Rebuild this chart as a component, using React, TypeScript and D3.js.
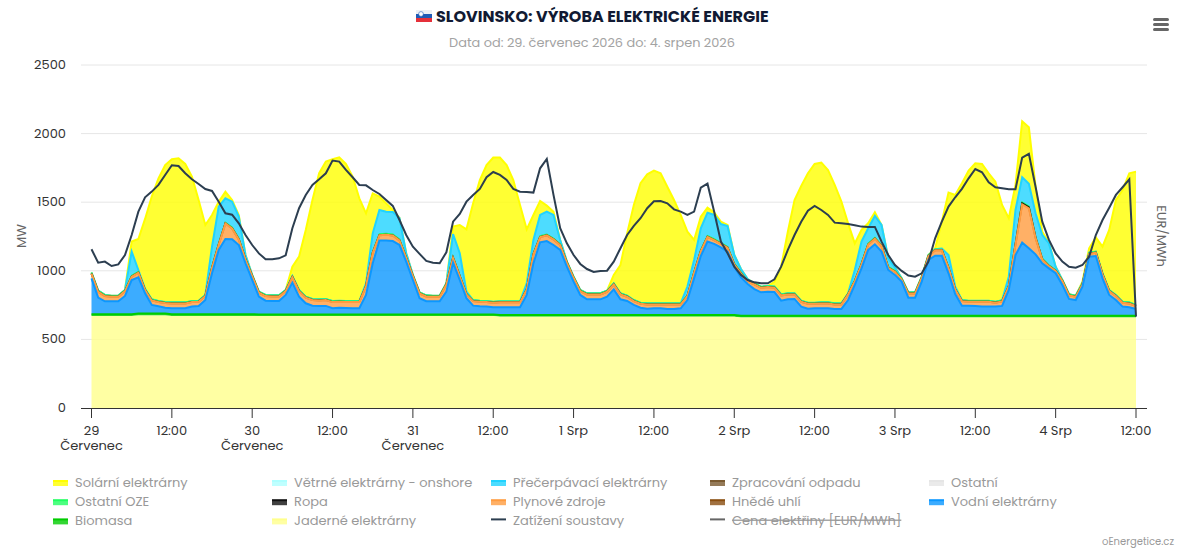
import * as d3 from "d3";

const hours = d3.range(157);

const nuclear = [
  671,671,671,671,671,671,671,675,675,675,675,675,
  671,671,671,671,671,671,671,671,671,671,671,671,
  671,670,670,670,670,670,670,670,670,670,670,670,
  670,670,670,670,670,670,670,670,670,670,670,670,
  670,670,670,670,670,670,670,670,670,670,670,670,
  670,665,665,665,665,665,665,665,665,665,665,665,
  665,665,665,665,665,665,665,665,665,665,665,665,
  665,665,665,665,665,665,665,665,665,665,665,665,
  665,660,660,660,660,660,660,660,660,660,660,660,
  660,660,660,660,660,660,660,660,660,660,660,660,
  660,660,660,660,660,660,660,660,660,660,660,660,
  660,660,660,660,660,660,660,660,660,660,660,660,
  660,660,660,660,660,660,660,660,660,660,660,660,
  660,
];
const biomass = [
  13,13,13,13,13,13,13,13,13,13,13,13,
  13,13,13,13,13,13,13,13,13,13,13,13,
  13,12,12,12,12,12,12,12,12,12,12,12,
  12,12,12,12,12,12,12,12,12,12,12,12,
  12,12,12,12,12,12,12,12,12,12,12,12,
  12,12,12,12,12,12,12,12,12,12,12,12,
  12,12,12,12,12,12,12,12,12,12,12,12,
  12,12,12,12,12,12,12,12,12,12,12,12,
  12,12,12,12,12,12,12,12,12,12,12,12,
  12,12,12,12,12,12,12,12,12,12,12,12,
  12,12,12,12,12,12,12,12,12,12,12,12,
  12,12,12,12,12,12,12,12,12,12,12,12,
  12,12,12,12,12,12,12,12,12,12,12,12,
  12,
];
const hydro = [
  261,121,94,94,94,133,249,265,148,63,53,43,
  43,43,43,55,60,103,298,468,548,546,504,371,
  249,130,100,98,98,142,232,130,81,64,62,62,
  45,49,47,45,45,142,373,538,538,535,506,385,
  251,118,96,96,96,166,377,251,118,64,59,57,
  52,57,57,57,57,147,378,531,540,511,475,353,
  244,147,115,115,115,135,188,115,103,74,54,47,
  50,50,45,45,50,110,268,431,536,519,494,463,
  353,280,232,195,171,176,173,110,120,123,67,52,
  55,55,55,50,50,115,225,346,480,521,468,334,
  298,249,132,132,249,407,438,438,310,159,74,74,
  72,67,67,67,72,188,443,533,492,448,383,346,
  310,225,123,115,213,431,436,273,152,115,67,62,
  50,
];
const gas = [
  34,42,38,33,33,35,24,33,24,33,31,34,
  35,35,35,33,30,29,40,40,113,79,41,28,
  29,28,34,33,33,28,40,40,41,41,40,43,
  45,43,43,45,45,65,77,40,43,41,34,28,
  29,35,35,33,33,53,36,29,28,33,33,33,
  33,36,36,36,36,40,65,38,41,41,36,29,
  28,28,36,36,36,35,36,36,31,28,29,31,
  28,28,33,33,28,29,41,36,35,28,26,28,
  17,29,16,34,33,33,32,39,36,33,35,36,
  33,35,35,33,33,41,28,29,40,41,40,16,
  23,16,31,31,28,28,39,39,40,33,33,28,
  30,35,35,28,33,29,77,279,291,121,28,16,
  16,28,26,24,16,21,24,29,28,29,28,28,
  21,
];
const oil = [
  0,0,0,0,0,0,0,0,0,0,0,0,
  0,0,0,0,0,0,0,0,0,0,0,0,
  0,0,0,0,0,0,0,0,0,0,0,0,
  0,0,0,0,0,0,0,0,0,0,0,0,
  0,0,0,0,0,0,0,0,0,0,0,0,
  0,0,0,0,0,0,0,0,0,0,0,0,
  0,0,0,0,0,0,0,0,0,0,0,0,
  0,0,0,0,0,0,0,0,0,0,0,0,
  0,0,0,0,0,0,0,0,0,0,0,0,
  0,0,0,0,0,0,0,0,0,0,0,0,
  0,0,0,0,0,0,0,0,0,0,0,0,
  0,0,0,0,0,0,0,8,8,0,0,0,
  0,0,0,0,0,0,0,0,0,0,0,0,
  0,
];
const otherRes = [
  8,8,8,8,8,8,8,8,8,8,8,8,
  8,8,8,8,8,8,8,8,8,8,8,8,
  8,8,8,8,8,8,8,8,8,8,8,8,
  8,8,8,8,8,8,8,8,8,8,8,8,
  8,8,8,8,8,8,8,8,8,8,8,8,
  8,8,8,8,8,8,8,8,8,8,8,8,
  8,8,8,8,8,8,8,8,8,8,8,8,
  8,8,8,8,8,8,8,8,8,8,8,8,
  8,8,8,8,8,8,8,8,8,8,8,8,
  8,8,8,8,8,8,8,8,8,8,8,8,
  8,8,8,8,8,8,8,8,8,8,8,8,
  8,8,8,8,8,8,8,8,8,8,8,8,
  8,8,8,8,8,8,8,8,8,8,8,8,
  8,
];
const pumped = [
  0,0,0,0,0,0,175,12,0,0,0,0,
  0,0,0,0,0,0,146,268,175,187,158,24,
  0,0,0,0,0,0,0,0,0,0,0,0,
  0,0,0,0,0,12,133,175,160,163,155,25,
  0,0,0,0,0,0,165,158,12,0,0,0,
  0,0,0,0,0,37,97,153,165,170,29,0,
  0,0,0,0,0,0,0,0,0,0,0,0,
  0,0,0,0,0,61,85,158,168,175,136,151,
  60,24,12,0,0,0,0,0,0,0,0,0,
  0,0,0,0,0,0,73,158,110,158,146,61,
  24,0,0,0,0,0,0,5,85,13,0,0,
  0,0,0,0,0,60,243,182,163,170,170,158,
  24,0,0,0,0,0,0,0,0,0,0,0,
  0,
];
const solar = [
  0,0,0,0,0,0,73,226,510,749,894,998,
  1043,1050,1009,906,734,510,231,36,49,12,12,0,
  0,0,0,0,0,0,68,243,486,721,919,1001,
  1033,1045,999,906,748,510,292,98,61,14,0,0,
  0,0,0,0,0,0,54,206,454,705,880,991,
  1050,1047,993,884,702,393,182,102,44,24,0,0,
  0,0,0,0,0,0,61,206,454,693,870,940,
  967,948,850,753,644,400,146,85,36,19,17,7,
  0,0,0,0,0,0,35,201,449,680,836,943,
  1011,1018,965,863,741,510,194,85,36,26,0,0,
  0,0,0,0,0,0,7,196,455,668,851,948,
  1002,997,929,875,695,426,183,408,412,194,24,5,
  0,0,0,0,12,32,104,194,438,692,814,941,
  972,
];
const load = [
  1157,1059,1067,1035,1047,1115,1261,1431,1536,1577,1626,1698,
  1769,1764,1711,1667,1633,1596,1582,1504,1419,1409,1346,1261,
  1188,1127,1084,1084,1091,1113,1310,1456,1553,1626,1667,1711,
  1803,1796,1735,1682,1626,1623,1589,1560,1516,1473,1370,1261,
  1176,1123,1072,1059,1055,1135,1358,1414,1504,1553,1597,1682,
  1720,1699,1662,1597,1577,1575,1570,1747,1815,1553,1310,1200,
  1115,1050,1013,991,999,1001,1067,1164,1261,1327,1383,1456,
  1507,1509,1492,1448,1431,1407,1431,1606,1635,1431,1213,1128,
  1030,970,933,916,909,909,938,1030,1152,1261,1358,1438,
  1473,1443,1407,1351,1346,1341,1332,1322,1320,1320,1213,1115,
  1042,999,965,957,982,1067,1237,1358,1468,1536,1597,1674,
  1742,1718,1645,1609,1601,1594,1594,1825,1852,1613,1358,1225,
  1127,1067,1030,1023,1042,1103,1261,1370,1460,1553,1609,1667,
  666,
];

const yTicks = [0, 500, 1000, 1500, 2000, 2500];
const xLabels = [
  "29", "12:00", "30", "12:00", "31", "12:00", "1 Srp",
  "12:00", "2 Srp", "12:00", "3 Srp", "12:00", "4 Srp", "12:00",
];
const xSubLabels = ["Červenec", "", "Červenec", "", "Červenec"];

// bottom of the stack first
const stackKeys = ["nuclear", "biomass", "hydro", "gas", "oil", "otherRes", "pumped", "solar"];
const seriesByKey: Record<string, number[]> = { nuclear, biomass, hydro, gas, oil, otherRes, pumped, solar };
const colors: Record<string, string> = {
  solar: "#ffff00",
  wind: "#afffff",
  pumped: "#20d3ff",
  waste: "#7a5a30",
  other: "#e5e5e5",
  otherRes: "#20ff60",
  oil: "#101010",
  gas: "#ff9c40",
  brown: "#8a4e10",
  hydro: "#0b97ff",
  biomass: "#00cc00",
  nuclear: "#ffff8c",
};

const legendItems = [
  ["Solární elektrárny", "solar"],
  ["Větrné elektrárny - onshore", "wind"],
  ["Přečerpávací elektrárny", "pumped"],
  ["Zpracování odpadu", "waste"],
  ["Ostatní", "other"],
  ["Ostatní OZE", "otherRes"],
  ["Ropa", "oil"],
  ["Plynové zdroje", "gas"],
  ["Hnědé uhlí", "brown"],
  ["Vodní elektrárny", "hydro"],
  ["Biomasa", "biomass"],
  ["Jaderné elektrárny", "nuclear"],
  ["Zatížení soustavy", "load"],
  ["Cena elektřiny [EUR/MWh]", "price"],
];

const font = "Poppins, Inter, 'Noto Sans', sans-serif";

const width = 1184;
const height = 550;
const plotLeft = 81;
const plotRight = 1147;

export default function App() {
  const x = d3.scaleLinear().domain([0, 156]).range([91.5, 1136]);
  const y = d3.scaleLinear().domain([0, 2500]).range([408, 65]);

  const rows = hours.map((h) => {
    const row: Record<string, number> = { h };
    stackKeys.forEach((k) => (row[k] = seriesByKey[k][h]));
    return row;
  });
  const stacked = d3.stack<Record<string, number>>().keys(stackKeys)(rows);

  const area = d3
    .area<any>()
    .x((d) => x(d.data.h))
    .y0((d) => y(d[0]))
    .y1((d) => y(d[1]));
  const top = d3
    .line<any>()
    .x((d) => x(d.data.h))
    .y((d) => y(d[1]));
  const loadLine = d3
    .line<number>()
    .x((_, i) => x(hours[i]))
    .y((d) => y(d));

  const legendX = d3.scaleOrdinal<number, number>().domain([0, 1, 2, 3, 4]).range([53, 272, 491, 710, 929]);

  return (
    <svg width={width} height={height} style={{ position: "absolute", left: 0, top: 0 }} fontFamily={font}>
      <rect x={416} y={10} width={16} height={4} fill="#edf0f4" />
      <rect x={416} y={14} width={16} height={4} fill="#1f5bb5" />
      <rect x={416} y={18} width={16} height={4} fill="#e5303a" />
      <circle cx={421} cy={14} r={2.4} fill="#fff" stroke="#1f5bb5" strokeWidth={0.6} />
      <text x={436} y={22} fontSize={16} fontWeight={700} fill="#111a33">
        SLOVINSKO: VÝROBA ELEKTRICKÉ ENERGIE
      </text>
      <text x={592} y={47} textAnchor="middle" fontSize={12.9} fill="#a3a3a3">
        Data od: 29. červenec 2026 do: 4. srpen 2026
      </text>

      <g fill="#666">
        <rect x={1153} y={18} width={16} height={3} rx={1.5} />
        <rect x={1153} y={23} width={16} height={3} rx={1.5} />
        <rect x={1153} y={28} width={16} height={3} rx={1.5} />
      </g>

      {yTicks.filter((t) => t > 0).map((t) => (
        <line key={t} x1={plotLeft} x2={plotRight} y1={y(t)} y2={y(t)} stroke="#e6e6e6" />
      ))}

      {[...stacked].reverse().map((s) => (
        <g key={s.key}>
          <path d={area(s) ?? ""} fill={colors[s.key]} fillOpacity={0.8} />
          {s.key === "nuclear" ? null : (
            <path d={top(s) ?? ""} fill="none" stroke={colors[s.key]} strokeWidth={s.key === "otherRes" ? 1.5 : 2} />
          )}
        </g>
      ))}
      <path d={loadLine(load) ?? ""} fill="none" stroke="#2c3e50" strokeWidth={2} />

      <line x1={plotLeft} x2={plotRight} y1={408.5} y2={408.5} stroke="#333" />
      {xLabels.map((label, i) => {
        const px = x(i * 12);
        return (
          <g key={i}>
            <line x1={px} x2={px} y1={408} y2={418} stroke="#333" />
            <text x={px} y={435} textAnchor="middle" fontSize={13} fill="#333">
              <tspan x={px}>{label}</tspan>
              {xSubLabels[i] ? (
                <tspan x={px} dy={15}>
                  {xSubLabels[i]}
                </tspan>
              ) : null}
            </text>
          </g>
        );
      })}

      {yTicks.map((t) => (
        <text key={t} x={66} y={y(t) + 4} textAnchor="end" fontSize={13} fill="#333">
          {t}
        </text>
      ))}
      <text transform="translate(26,236) rotate(-90)" textAnchor="middle" fontSize={13} fill="#666">
        MW
      </text>
      <text transform="translate(1157,236) rotate(90)" textAnchor="middle" fontSize={13} fill="#666">
        EUR/MWh
      </text>

      {legendItems.map(([name, key], i) => {
        const lx = legendX(i % 5);
        const ly = 481 + Math.floor(i / 5) * 19.2;
        const isLine = key === "load" || key === "price";
        return (
          <g key={name}>
            {isLine ? (
              <line x1={lx} x2={lx + 15} y1={ly} y2={ly} stroke={key === "load" ? "#2c3e50" : "#666"} strokeWidth={2} />
            ) : (
              <>
                <rect x={lx} y={ly} width={15} height={5} fill={colors[key]} fillOpacity={0.8} />
                <line x1={lx} x2={lx + 15} y1={ly} y2={ly} stroke={colors[key]} strokeWidth={2} />
              </>
            )}
            <text
              x={lx + 22}
              y={ly + 5.5}
              fontSize={13}
              fill="#999"
              textDecoration={key === "price" ? "line-through" : undefined}
            >
              {name}
            </text>
          </g>
        );
      })}

      <text x={1174} y={545} textAnchor="end" fontSize={10} fill="#999">
        oEnergetice.cz
      </text>
    </svg>
  );
}
